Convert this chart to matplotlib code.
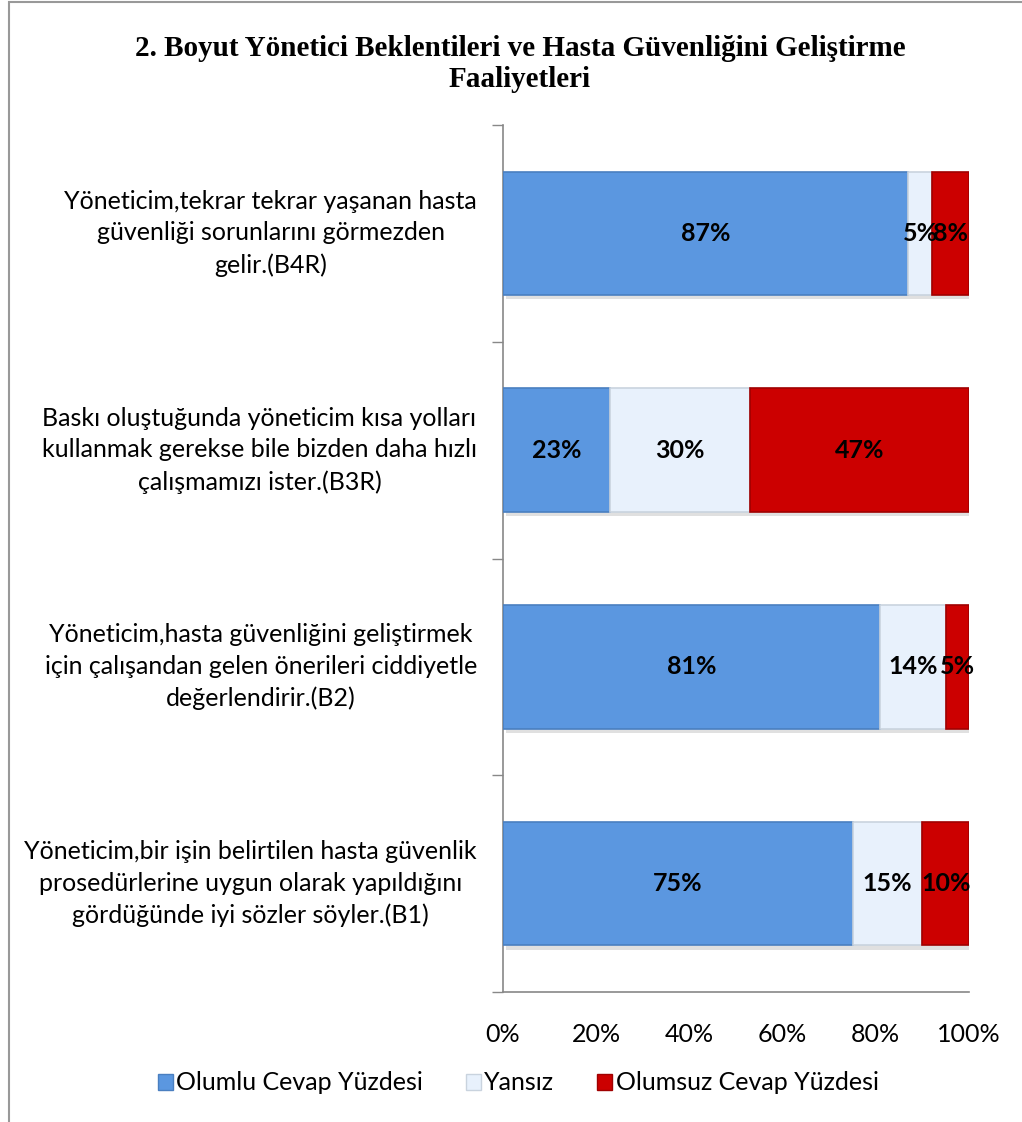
import matplotlib
matplotlib.use("Agg")
import matplotlib.pyplot as plt
import matplotlib.patches as mpatches
import matplotlib.patheffects as pe
import numpy as np

categories = [
    "Yöneticim,bir işin belirtilen hasta güvenlik\nprosedürlerine uygun olarak yapıldığını\ngördüğünde iyi sözler söyler.(B1)",
    "Yöneticim,hasta güvenliğini geliştirmek\niçin çalışandan gelen önerileri ciddiyetle\ndeğerlendirir.(B2)",
    "Baskı oluştuğunda yöneticim kısa yolları\nkullanmak gerekse bile bizden daha hızlı\nçalışmamızı ister.(B3R)",
    "Yöneticim,tekrar tekrar yaşanan hasta\ngüvenliği sorunlarını görmezden\ngelir.(B4R)",
]
olumlu = [75, 81, 23, 87]
yansiz = [15, 14, 30, 5]
olumsuz = [10, 5, 47, 8]
series_names = ["Olumlu Cevap Yüzdesi", "Yansız", "Olumsuz Cevap Yüzdesi"]
xticks = [0, 20, 40, 60, 80, 100]
title = "2. Boyut Yönetici Beklentileri ve Hasta Güvenliğini Geliştirme\nFaaliyetleri"

colors = ["#5b97e0", "#e8f1fc", "#cc0000"]
edges = ["#4a7fc0", "#c9d3de", "#a00000"]

W, H = 1022, 1122
fig = plt.figure(figsize=(W / 100, H / 100), dpi=100)
ax = fig.add_axes([503 / W, 1 - 992 / H, (969 - 503) / W, (992 - 125) / H])

y = np.arange(len(categories))
left = np.zeros(len(categories))
shadow = [pe.SimplePatchShadow(offset=(2, -3), shadow_rgbFace="#bbbbbb", alpha=0.45), pe.Normal()]
for vals, c, ec in zip([olumlu, yansiz, olumsuz], colors, edges):
    bars = ax.barh(y, vals, left=left, height=0.57, color=c, edgecolor=ec, linewidth=1.2, zorder=3)
    for b in bars:
        b.set_path_effects(shadow)
    for yi, v, l in zip(y, vals, left):
        ax.text(l + v / 2, yi, f"{v}%", ha="center", va="center", fontsize=18,
                fontweight="bold", family="Lato", color="black", zorder=5)
    left = left + np.array(vals)

ax.set_xlim(0, 100)
ax.set_ylim(-0.5, len(categories) - 0.5)
ax.set_xticks(xticks)
ax.set_xticklabels([f"{t}%" for t in xticks], family="Lato", fontsize=18)
ax.tick_params(axis="x", length=0, pad=22)
ax.set_yticks(np.arange(-0.5, len(categories), 1.0))
ax.set_yticklabels([])
ax.tick_params(axis="y", length=8, width=1, color="#888888", direction="out")
for s in ["top", "right"]:
    ax.spines[s].set_visible(False)
for s in ["left", "bottom"]:
    ax.spines[s].set_color("#888888")
    ax.spines[s].set_linewidth(1.2)

for yi, cat in zip(y, categories):
    ax.text(-0.056, yi, cat, transform=ax.get_yaxis_transform(), ha="right", va="center",
            multialignment="center", fontsize=18, family="Lato", linespacing=1.45)

fig.text(520 / W, 1 - 64 / H, title, ha="center", va="center", fontsize=21,
         fontweight="bold", family="Liberation Serif", linespacing=1.2)

handles = [mpatches.Patch(facecolor=c, edgecolor=ec) for c, ec in zip(colors, edges)]
fig.legend(handles, series_names, loc="center", bbox_to_anchor=(518 / W, 1 - 1083 / H),
           ncol=3, frameon=False, prop={"family": "Lato", "size": 18},
           handlelength=0.6, handleheight=0.6, handletextpad=0.15, columnspacing=1.7)

# outer border (left and top visible)
border = mpatches.Rectangle((9 / W, -0.01), 1.2, 1 - 2 / H + 0.01, transform=fig.transFigure,
                            fill=False, edgecolor="#999999", linewidth=1.5)
fig.add_artist(border)

fig.savefig("out.png", dpi=100)
